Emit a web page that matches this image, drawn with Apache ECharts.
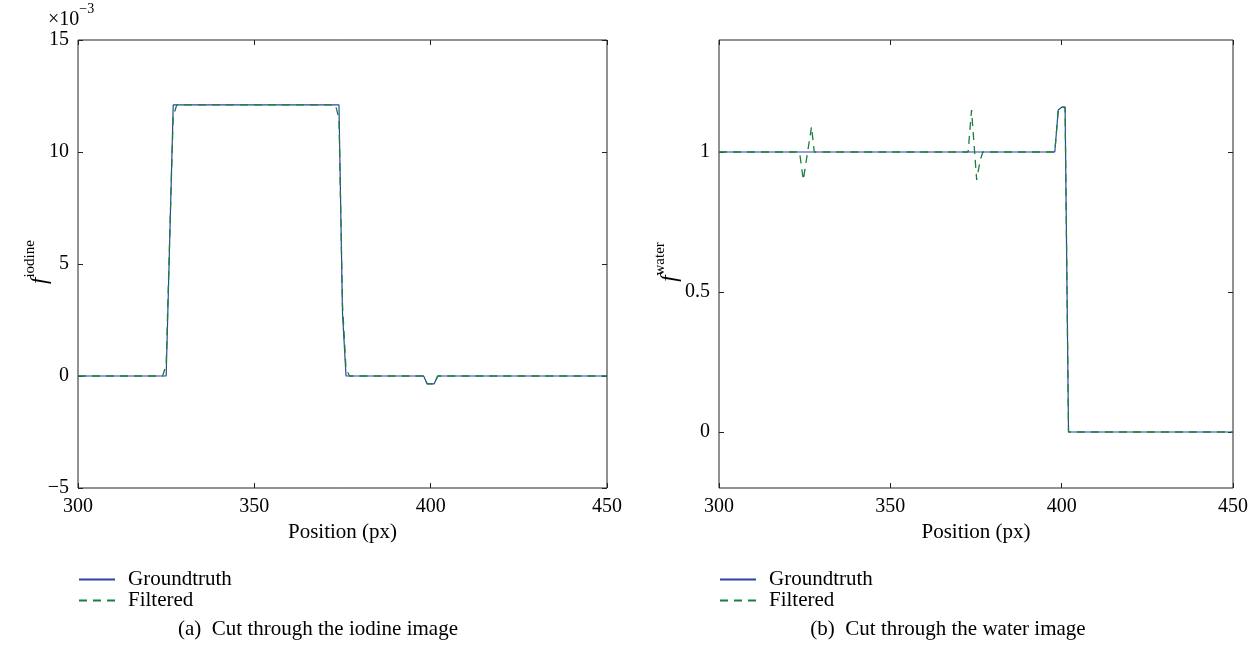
<!DOCTYPE html>
<html>
<head>
<meta charset="utf-8">
<title>Cut through iodine and water images</title>
<script src="https://cdn.jsdelivr.net/npm/echarts@6/dist/echarts.min.js"></script>
<style>
  html, body { margin: 0; padding: 0; background: #fff; }
  #chart { width: 1260px; height: 659px; }
</style>
</head>
<body>
<div id="chart"></div>
<script>
// values, [position px, value]
// iodine values are in units of 1e-3
const xTicks = [300, 350, 400, 450];
const iodineTicks = [-5, 0, 5, 10, 15];
const waterTicks = [0, 0.5, 1];

const iodineTruth = [[300, 0], [325, 0], [327, 12.1], [374, 12.1], [375, 2.8], [376, 0],
  [398, 0], [399, -0.35], [401, -0.35], [402, 0], [450, 0]];
const iodineFiltered = [[300, 0], [324, 0], [325, 0.5], [326, 6.2], [327, 11.6], [328, 12.1],
  [373, 12.1], [374, 11.5], [375, 3.2], [376, 0.3], [377, 0],
  [398, 0], [399, -0.35], [401, -0.35], [402, 0], [450, 0]];

const waterTruth = [[300, 1], [398, 1], [399, 1.15], [400, 1.16], [401, 1.16], [402, 0], [450, 0]];
const waterFiltered = [[300, 1], [323.5, 1], [324.6, 0.9], [327, 1.09], [327.8, 1],
  [372.7, 1], [373.7, 1.15], [375.2, 0.9], [376.2, 0.97], [377, 1],
  [398, 1], [399, 1.15], [400, 1.16], [401, 1.16], [402, 0], [450, 0]];

const FONT = "'Liberation Serif', 'DejaVu Serif', serif";
const INK = '#000';
const FRAME = '#222';
const BLUE = '#2845a6';
const GREEN = '#1a7f3c';

const tickStyle = { inside: true, length: 5, lineStyle: { color: FRAME, width: 1 } };
const labelStyle = { fontFamily: FONT, fontSize: 20, color: INK };
const noLine = { show: false, onZero: false };

function xPair(grid) {
  return [
    {
      gridIndex: grid, type: 'value', position: 'bottom',
      min: xTicks[0], max: xTicks[xTicks.length - 1], interval: 50,
      axisLine: noLine, splitLine: { show: false },
      axisTick: tickStyle,
      axisLabel: Object.assign({ margin: 9 }, labelStyle),
      name: 'Position (px)', nameLocation: 'middle', nameGap: 31,
      nameTextStyle: { fontFamily: FONT, fontSize: 21, color: INK }
    },
    {
      gridIndex: grid, type: 'value', position: 'top',
      min: xTicks[0], max: xTicks[xTicks.length - 1], interval: 50,
      axisLine: noLine, splitLine: { show: false },
      axisTick: tickStyle, axisLabel: { show: false }
    }
  ];
}

const yAxes = [
  {
    gridIndex: 0, type: 'value', position: 'left', min: iodineTicks[0], max: iodineTicks[4], interval: 5,
    axisLine: noLine, splitLine: { show: false },
    axisTick: tickStyle,
    axisLabel: Object.assign({ margin: 9, formatter: v => String(v).replace('-', '\u2212') }, labelStyle)
  },
  {
    gridIndex: 0, type: 'value', position: 'right', min: iodineTicks[0], max: iodineTicks[4], interval: 5,
    axisLine: noLine, splitLine: { show: false },
    axisTick: tickStyle, axisLabel: { show: false }
  },
  {
    gridIndex: 1, type: 'value', position: 'left', min: -0.2, max: 1.4,
    axisLine: noLine, splitLine: { show: false },
    axisTick: Object.assign({ customValues: waterTicks }, tickStyle),
    axisLabel: Object.assign({ margin: 9, customValues: waterTicks }, labelStyle)
  },
  {
    gridIndex: 1, type: 'value', position: 'right', min: -0.2, max: 1.4,
    axisLine: noLine, splitLine: { show: false },
    axisTick: Object.assign({ customValues: waterTicks }, tickStyle),
    axisLabel: { show: false }
  }
];

function lineSeries(name, data, xi, yi, dashed) {
  return {
    name: name, type: 'line', data: data, xAxisIndex: xi, yAxisIndex: yi,
    symbol: 'none', showSymbol: false, animation: false, silent: true,
    lineStyle: dashed
      ? { color: GREEN, width: 1.3, type: [8, 6] }
      : { color: BLUE, width: 1.2 },
    itemStyle: { color: dashed ? GREEN : BLUE },
    z: dashed ? 3 : 2
  };
}

function legendAt(left) {
  return {
    left: left, top: 569, orient: 'vertical', padding: 0,
    itemWidth: 36, itemHeight: 14, itemGap: 0,
    data: ['Groundtruth', 'Filtered'],
    selectedMode: false,
    itemStyle: { opacity: 0 },
    textStyle: { fontFamily: FONT, fontSize: 21, lineHeight: 21, color: INK, padding: [0, 0, 0, 8] }
  };
}

function yName(x, y, sub) {
  return {
    type: 'text', x: x, y: y, rotation: Math.PI / 2,
    style: {
      text: '{f|f}{s|' + sub + '}',
      align: 'center', verticalAlign: 'middle',
      rich: {
        f: { fontFamily: FONT, fontStyle: 'italic', fontSize: 23, lineHeight: 28, verticalAlign: 'bottom', fill: INK },
        s: { fontFamily: FONT, fontSize: 15, verticalAlign: 'top', fill: INK }
      }
    }
  };
}

function caption(x, text) {
  return {
    type: 'text', x: x, y: 629,
    style: { text: text, font: '21px ' + FONT, fill: INK, align: 'center', verticalAlign: 'middle' }
  };
}

const chart = echarts.init(document.getElementById('chart'), null, { renderer: 'canvas' });
chart.setOption({
  backgroundColor: '#fff',
  animation: false,
  grid: [
    { left: 78, right: 653, top: 40, height: 448, show: true, borderColor: FRAME, borderWidth: 1, backgroundColor: 'transparent' },
    { left: 719, right: 27, top: 40, height: 448, show: true, borderColor: FRAME, borderWidth: 1, backgroundColor: 'transparent' }
  ],
  xAxis: xPair(0).concat(xPair(1)),
  yAxis: yAxes,
  legend: [legendAt(78), legendAt(719)],
  series: [
    lineSeries('Groundtruth', iodineTruth, 0, 0, false),
    lineSeries('Filtered', iodineFiltered, 0, 0, true),
    lineSeries('Groundtruth', waterTruth, 2, 2, false),
    lineSeries('Filtered', waterFiltered, 2, 2, true)
  ],
  graphic: [
    {
      type: 'text', x: 48, y: 16,
      style: {
        text: '{a|\u00d710}{b|\u22123}',
        align: 'left', verticalAlign: 'middle',
        rich: {
          a: { fontFamily: FONT, fontSize: 20, lineHeight: 28, verticalAlign: 'bottom', fill: INK },
          b: { fontFamily: FONT, fontSize: 14, verticalAlign: 'top', fill: INK }
        }
      }
    },
    yName(37, 262, 'iodine'),
    yName(667, 262, 'water'),
    caption(318, '(a)  Cut through the iodine image'),
    caption(948, '(b)  Cut through the water image')
  ]
});
</script>
</body>
</html>
